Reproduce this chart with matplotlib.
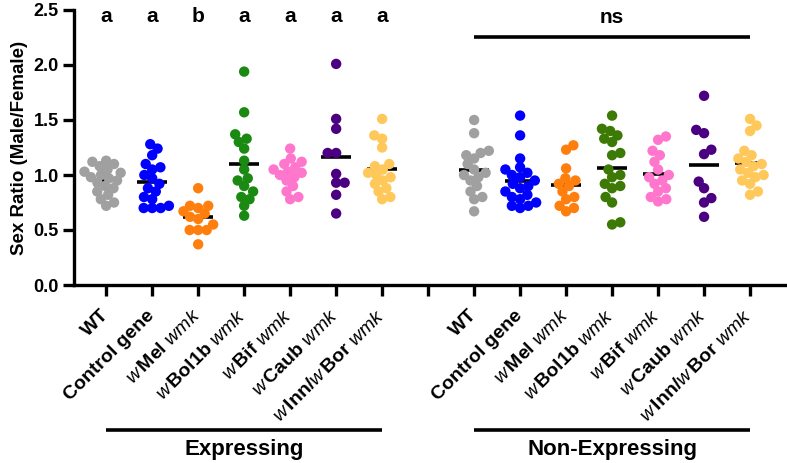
import numpy as np
import matplotlib
matplotlib.use("Agg")
import matplotlib.pyplot as plt

plt.rcParams['font.family'] = ['Liberation Sans', 'DejaVu Sans']
plt.rcParams['mathtext.fontset'] = 'custom'
plt.rcParams['mathtext.rm'] = 'Liberation Sans:bold'
plt.rcParams['mathtext.it'] = 'Liberation Sans:italic'
plt.rcParams['mathtext.bf'] = 'Liberation Sans:bold'

# ---------------- data ----------------
labels = ["WT", "Control gene",
          r"$\mathit{w}\,\mathbf{Mel}\ \mathit{wmk}$",
          r"$\mathit{w}\,\mathbf{Bol1b}\ \mathit{wmk}$",
          r"$\mathit{w}\,\mathbf{Bif}\ \mathit{wmk}$",
          r"$\mathit{w}\,\mathbf{Caub}\ \mathit{wmk}$",
          r"$\mathit{w}\,\mathbf{Inn/}\mathit{w}\,\mathbf{Bor}\ \mathit{wmk}$"]
colors_expr = ["#a0a0a0", "#0000ff", "#ff7f0e", "#1a8a12", "#ff77cc", "#4b0082", "#ffc85a"]
colors_non = ["#a0a0a0", "#0000ff", "#ff7f0e", "#3d7a05", "#ff77cc", "#4b0082", "#ffc85a"]
sig_letters = ["a", "a", "b", "a", "a", "a", "a"]
group_names = ["Expressing", "Non-Expressing"]

expr_wt = [1.13, 1.12, 1.10, 1.08, 1.05, 1.03, 1.02, 1.00, 0.98, 0.97, 0.95, 0.93,
           0.90, 0.88, 0.85, 0.82, 0.78, 0.75, 0.72]
expr_ctrl = [1.28, 1.24, 1.18, 1.10, 1.07, 1.05, 1.00, 0.97, 0.92, 0.88, 0.85, 0.80,
             0.78, 0.72, 0.70, 0.70, 0.70]
expr_mel = [0.88, 0.72, 0.72, 0.70, 0.67, 0.65, 0.62, 0.60, 0.55, 0.50, 0.50, 0.50, 0.37]
expr_bol = [1.94, 1.57, 1.37, 1.33, 1.30, 1.24, 1.13, 1.05, 0.97, 0.95, 0.90, 0.85,
            0.80, 0.78, 0.72, 0.63]
expr_bif = [1.24, 1.15, 1.12, 1.10, 1.07, 1.05, 1.03, 1.02, 1.00, 0.98, 0.95, 0.90,
            0.85, 0.80, 0.78]
expr_caub = [2.01, 1.51, 1.42, 1.20, 1.20, 1.01, 0.93, 0.93, 0.82, 0.65]
expr_inn = [1.51, 1.36, 1.33, 1.25, 1.10, 1.08, 1.05, 1.02, 1.00, 0.98, 0.95, 0.92,
            0.88, 0.85, 0.80, 0.78]

non_wt = [1.50, 1.38, 1.22, 1.20, 1.18, 1.15, 1.10, 1.05, 1.02, 1.00, 0.98, 0.95,
          0.90, 0.85, 0.80, 0.78, 0.67]
non_ctrl = [1.54, 1.36, 1.15, 1.07, 1.05, 1.02, 1.00, 0.98, 0.95, 0.92, 0.90, 0.88,
            0.85, 0.82, 0.80, 0.78, 0.75, 0.72, 0.70, 0.72]
non_mel = [1.27, 1.23, 1.06, 0.97, 0.95, 0.92, 0.90, 0.85, 0.80, 0.78, 0.72, 0.70, 0.67]
non_bol = [1.54, 1.42, 1.40, 1.36, 1.33, 1.30, 1.18, 1.20, 1.05, 1.00, 0.98, 0.92,
           0.90, 0.88, 0.80, 0.75, 0.57, 0.55]
non_bif = [1.35, 1.32, 1.22, 1.18, 1.12, 1.05, 1.00, 0.98, 0.95, 0.92, 0.88, 0.85,
           0.80, 0.78, 0.76]
non_caub = [1.72, 1.41, 1.38, 1.23, 1.19, 0.94, 0.88, 0.79, 0.75, 0.62]
non_inn = [1.51, 1.45, 1.40, 1.22, 1.18, 1.15, 1.12, 1.10, 1.08, 1.05, 1.02, 1.00,
           0.98, 0.95, 0.92, 0.85, 0.82]

expressing = [expr_wt, expr_ctrl, expr_mel, expr_bol, expr_bif, expr_caub, expr_inn]
non_expressing = [non_wt, non_ctrl, non_mel, non_bol, non_bif, non_caub, non_inn]

# ---------------- layout helpers ----------------
W, H, DPI = 787, 463, 100
fig = plt.figure(figsize=(W / DPI, H / DPI), dpi=DPI)
ax_l, ax_r, ax_b, ax_t = 74, 785, 285, 10
ax = fig.add_axes([ax_l / W, (H - ax_b) / H, (ax_r - ax_l) / W, (ax_b - ax_t) / H])

xmin, xmax = -0.7, 14.76
ymin, ymax = 0.0, 2.5
px_per_x = (ax_r - ax_l) / (xmax - xmin)
px_per_y = (ax_b - ax_t) / (ymax - ymin)

collide_px = 8.5


def swarm_offsets(vals, d):
    vals = np.asarray(vals, dtype=float)
    ys = vals * px_per_y
    order = np.argsort(ys)
    placed = []
    offs = np.zeros(len(vals))
    side = 1.0
    for i in order:
        y = ys[i]
        cands = [0.0]
        for (xo, yo) in placed:
            dy = y - yo
            if abs(dy) < d:
                dx = np.sqrt(d * d - dy * dy)
                cands += [xo + dx, xo - dx]
        cands = sorted(cands, key=lambda c: (round(abs(c), 3), -side * c))
        chosen = cands[-1]
        for c in cands:
            ok = all((c - xo) ** 2 + (y - yo) ** 2 >= d * d - 1e-6 for (xo, yo) in placed)
            if ok:
                chosen = c
                break
        if chosen != 0:
            side = -np.sign(chosen)
        placed.append((chosen, y))
        offs[i] = chosen
    return offs / px_per_x


positions = list(range(7)) + list(range(8, 15))
all_groups = expressing + non_expressing
all_colors = colors_expr + colors_non

for pos, vals, col in zip(positions, all_groups, all_colors):
    offs = swarm_offsets(vals, collide_px)
    ax.scatter(pos + offs, vals, s=56, color=col, edgecolors='none', zorder=3, clip_on=False)
    m = np.mean(vals)
    ax.plot([pos - 0.33, pos + 0.33], [m, m], color='black', lw=2.6, zorder=2,
            solid_capstyle='butt')

# axes styling
ax.set_xlim(xmin, xmax)
ax.set_ylim(ymin, ymax)
for s in ['top', 'right']:
    ax.spines[s].set_visible(False)
for s in ['left', 'bottom']:
    ax.spines[s].set_linewidth(2.4)

ax.set_yticks([0.0, 0.5, 1.0, 1.5, 2.0, 2.5])
ax.set_yticklabels(["0.0", "0.5", "1.0", "1.5", "2.0", "2.5"], fontsize=13, fontweight='bold')
ax.tick_params(axis='y', length=8, width=2.4, pad=3)

ax.set_xticks(list(range(15)))
ax.set_xticklabels(labels + [""] + labels, fontsize=14, fontweight='bold',
                   rotation=45, ha='right', va='center', rotation_mode='anchor')
ax.tick_params(axis='x', length=8, width=2.4, pad=12)

ax.set_ylabel("Sex Ratio (Male/Female)", fontsize=13.5, fontweight='bold', labelpad=4)

# significance letters
for pos, let in zip(range(7), sig_letters):
    ax.text(pos, 2.44, let, ha='center', va='center', fontsize=15, fontweight='bold')

ax.plot([8, 14], [2.25, 2.25], color='black', lw=2.6, clip_on=False, solid_capstyle='butt')
ax.text(11, 2.43, "ns", ha='center', va='center', fontsize=15, fontweight='bold')

# group brackets below axis
trans = ax.get_xaxis_transform()
for (x0, x1), name in zip([(0, 6), (8, 14)], group_names):
    ax.plot([x0, x1], [-0.527, -0.527], color='black', lw=2.6, transform=trans,
            clip_on=False, solid_capstyle='butt')
    ax.text((x0 + x1) / 2, -0.597, name, transform=trans, ha='center', va='center',
            fontsize=16, fontweight='bold')

fig.savefig("out.png", dpi=DPI)
